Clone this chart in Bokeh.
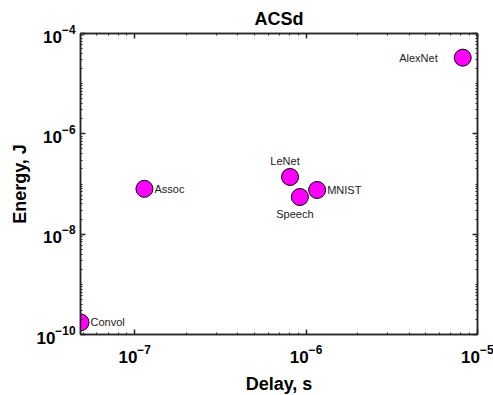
from bokeh.plotting import figure
from bokeh.models import LogAxis, FixedTicker, ColumnDataSource, LabelSet, CustomJSTickFormatter
from bokeh.core.properties import value
from bokeh.embed import file_html
from bokeh.resources import INLINE

# ---- data ----
names = ["AlexNet", "Assoc", "LeNet", "MNIST", "Speech", "Convol"]
delay_s = [8.2e-6, 1.14e-7, 8.06e-7, 1.16e-6, 9.2e-7, 4.83e-8]
energy_j = [3.3e-5, 8.0e-8, 1.38e-7, 7.6e-8, 5.5e-8, 1.74e-10]

x_major = [1e-7, 1e-6, 1e-5]
y_major = [1e-10, 1e-8, 1e-6, 1e-4]

# ---- label placement (style) ----
lbl_dx = [-25, 10, -5, 10, -5, 10]
lbl_dy = [0, 0, 16, 0, -17, 0]
lbl_align = ["right", "left", "center", "left", "center", "left"]

FONT = "Liberation Sans"
DARK = "#262626"

x_minor = [m * 10.0 ** e for e in range(-8, -5 + 1) for m in range(1, 10)]
y_minor = [m * 10.0 ** e for e in range(-10, -4 + 1) for m in range(1, 10)]

p = figure(frame_width=397, frame_height=301, x_axis_type="log", y_axis_type="log",
           x_range=(4.83e-8, 1e-5), y_range=(1e-10, 1e-4),
           output_backend="svg", toolbar_location=None,
           min_border_left=80, min_border_right=16,
           min_border_top=33, min_border_bottom=61)

p.title.text = "ACSd"
p.title.align = "center"
p.title.text_font = FONT
p.title.text_font_size = "18px"
p.title.text_font_style = "bold"
p.title.text_color = "black"

p.grid.visible = False
p.outline_line_color = DARK
p.outline_line_width = 1.5
p.background_fill_color = "white"
p.border_fill_color = "white"

def style_axis(ax, ticks, minor, show_labels=True):
    ax.ticker = FixedTicker(ticks=ticks, minor_ticks=minor)
    ax.axis_line_color = DARK
    ax.axis_line_width = 1.5
    ax.major_tick_in = 5
    ax.major_tick_out = 0
    ax.minor_tick_in = 2
    ax.minor_tick_out = 0
    ax.major_tick_line_color = DARK
    ax.major_tick_line_width = 1.5
    ax.minor_tick_line_color = DARK
    ax.minor_tick_line_width = 1
    ax.major_label_text_font = FONT
    ax.major_label_text_font_style = "bold"
    ax.major_label_text_font_size = "17px"
    ax.major_label_text_color = "black"
    ax.axis_label_text_font = FONT
    ax.axis_label_text_font_style = "bold"
    ax.axis_label_text_font_size = "18px"
    ax.axis_label_text_color = "black"
    if not show_labels:
        ax.major_label_text_font_size = "0px"
        ax.major_label_standoff = 0
        ax.formatter = CustomJSTickFormatter(code="return ''")

style_axis(p.xaxis[0], x_major, x_minor)
style_axis(p.yaxis[0], y_major, y_minor)
p.xaxis[0].axis_label = "Delay, s"
p.yaxis[0].axis_label = "Energy, J"
p.xaxis[0].major_label_standoff = 10
p.xaxis[0].axis_label_standoff = 8
p.yaxis[0].major_label_standoff = 5
p.yaxis[0].axis_label_standoff = 3

top = LogAxis()
style_axis(top, x_major, x_minor, show_labels=False)
p.add_layout(top, "above")
right = LogAxis()
style_axis(right, y_major, y_minor, show_labels=False)
p.add_layout(right, "right")

src = ColumnDataSource(dict(x=delay_s, y=energy_j, name=names,
                            dx=lbl_dx, dy=lbl_dy, align=lbl_align))
p.scatter("x", "y", source=src, size=17, fill_color="#FF00FF",
          line_color="black", line_width=1)
labels = LabelSet(x="x", y="y", text="name", source=src, x_offset="dx", y_offset="dy",
                  text_align="align", text_baseline="middle",
                  text_font=value(FONT), text_font_size="11px", text_color="#222222")
p.add_layout(labels)

open("out.html", "w").write(file_html(p, INLINE))
